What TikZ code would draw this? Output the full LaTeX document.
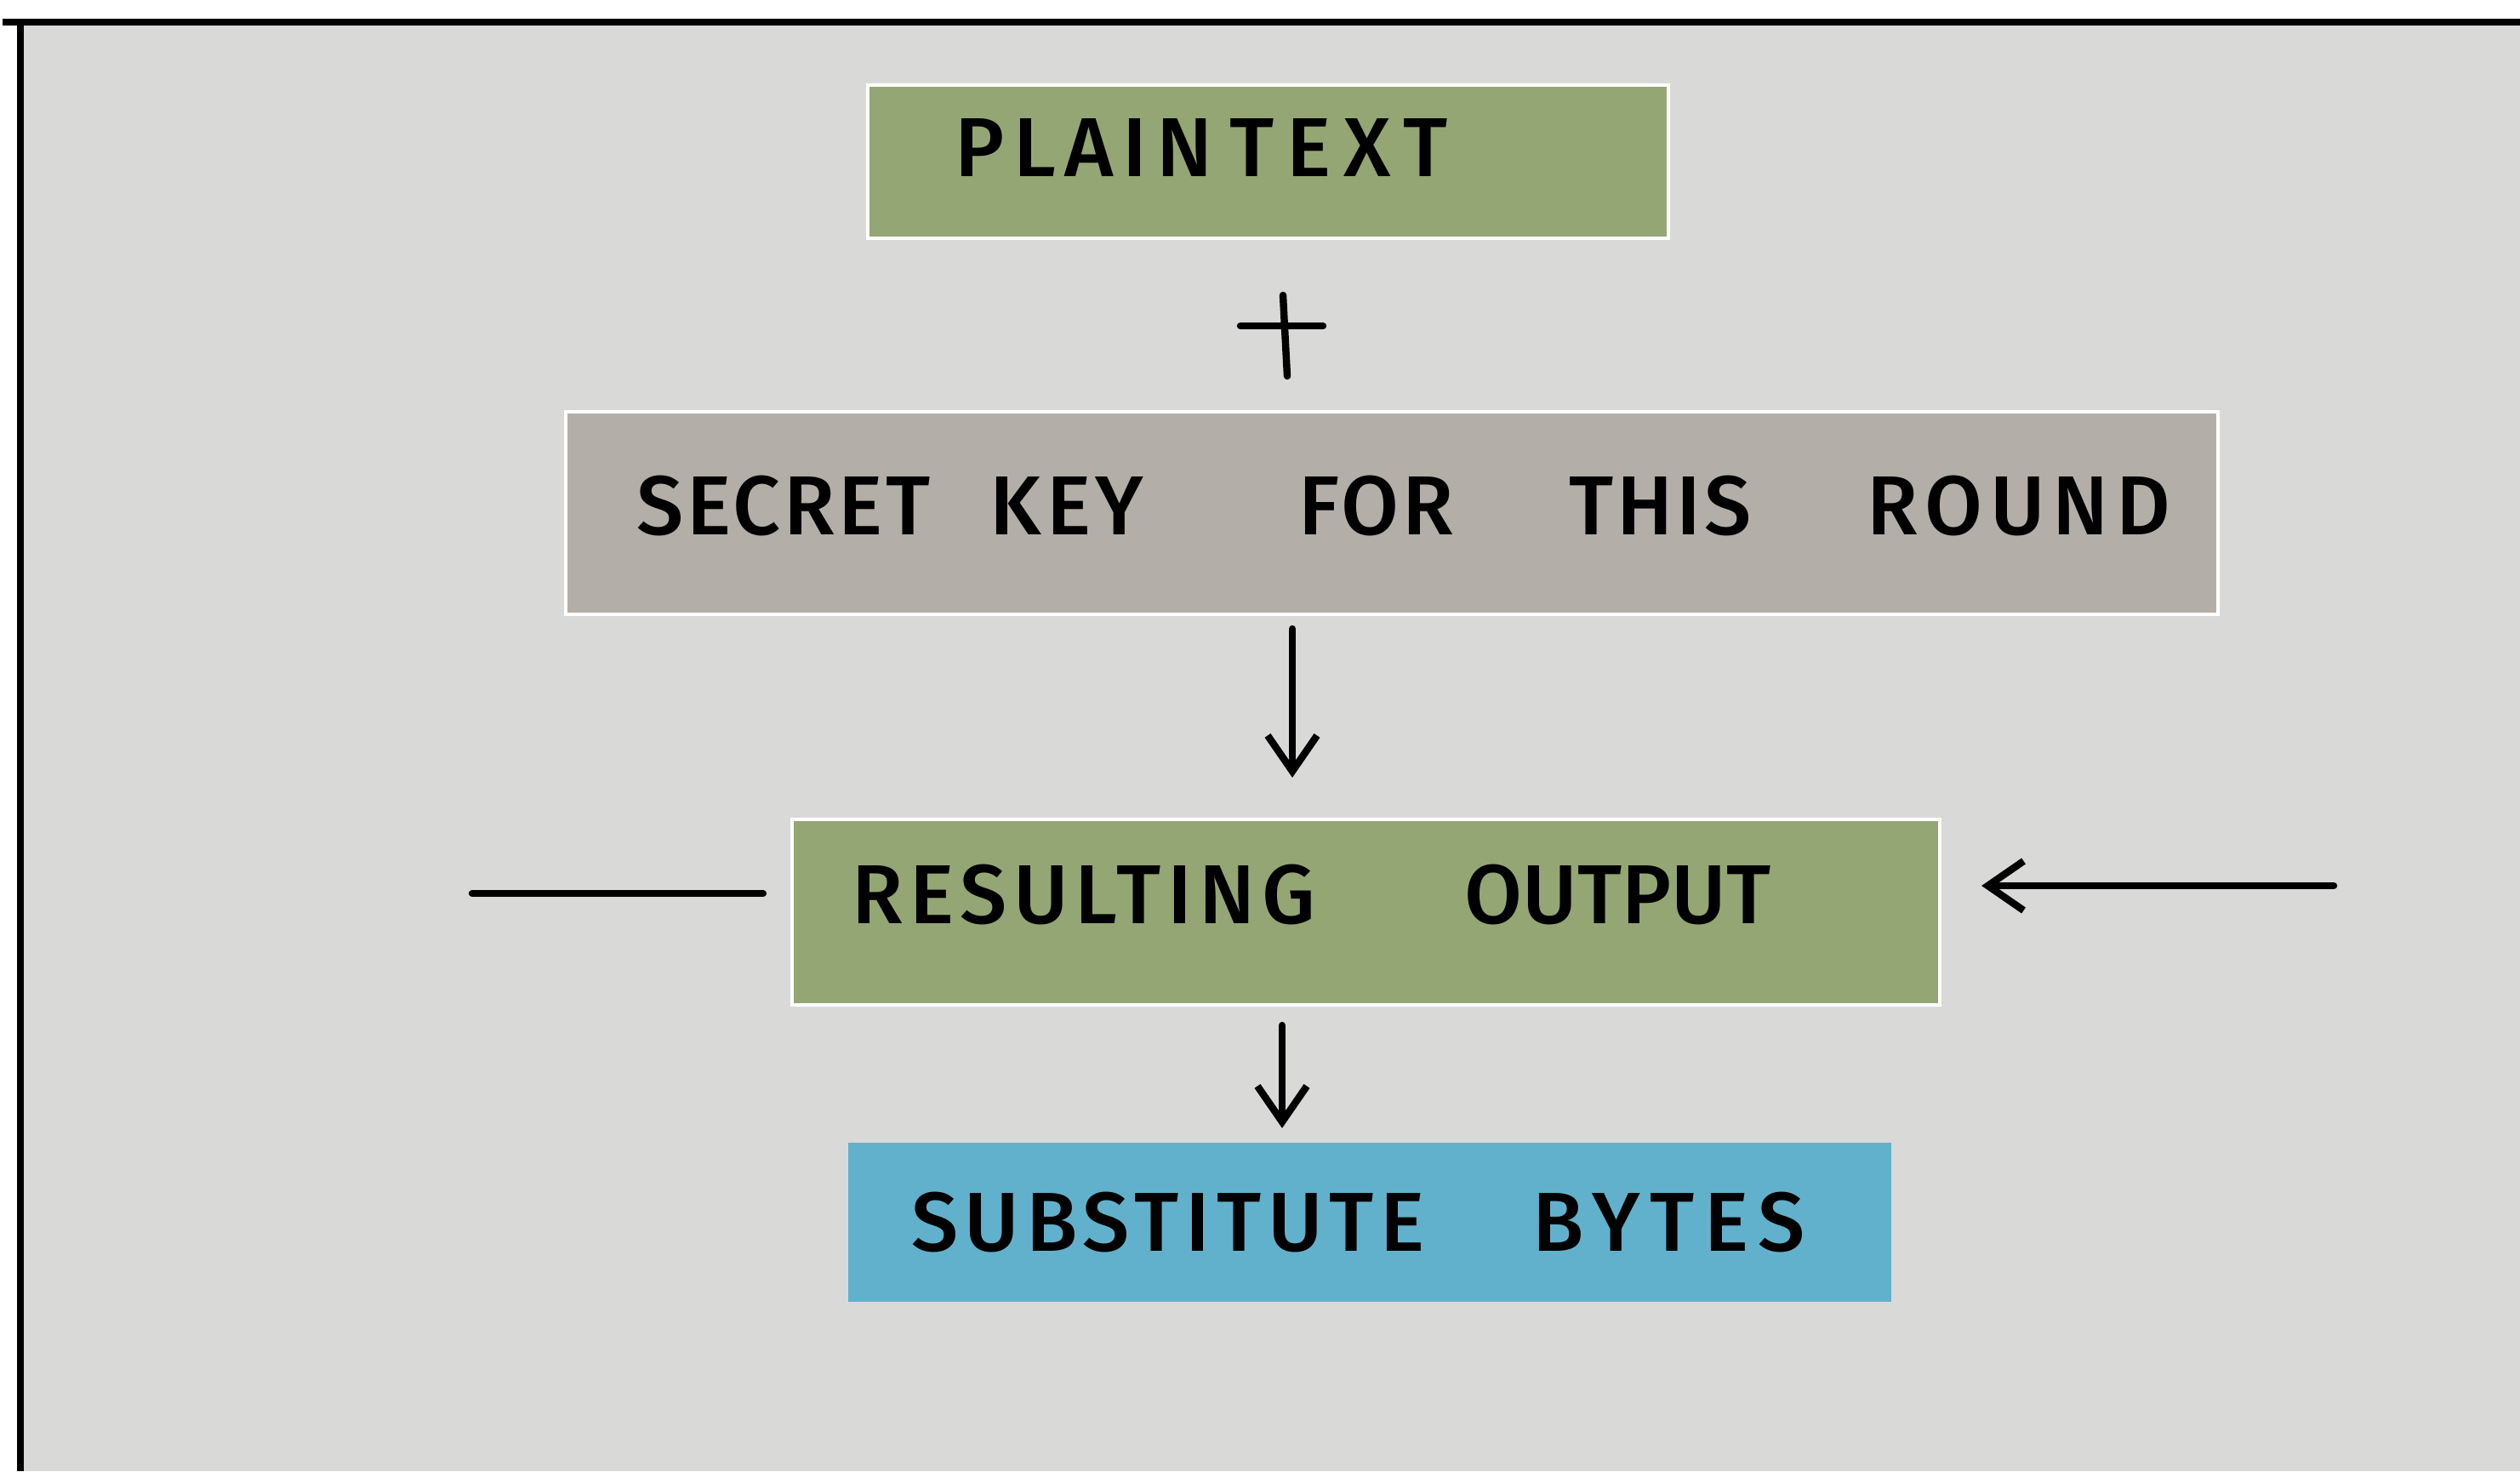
\documentclass[tikz,border=0pt]{standalone}
\usepackage{fontspec}
\setmainfont{Fira Sans}[BoldFont={Fira Sans Medium}]
\usetikzlibrary{arrows.meta}

\definecolor{paper}{HTML}{D9D9D7}
\definecolor{leaf}{HTML}{94A674}
\definecolor{stone}{HTML}{B3AEA7}
\definecolor{sky}{HTML}{62B1CC}

\newcommand{\gap}[1]{\hspace*{#1}}
\newcommand{\spread}[2]{{\addfontfeatures{LetterSpace=#1}#2}}

\begin{document}
\begin{tikzpicture}[>={Straight Barb[length=0.42cm,width=0.58cm]},
    line cap=round,
    card/.style={draw=white, line width=1.2pt, inner ysep=0pt, align=left,
      font=\fontsize{28}{30}\selectfont\bfseries, text height=0.68cm},
    pen/.style={line width=2.4pt}]
    % --- 1. 紙と枠 ---
    \useasboundingbox (0,0) rectangle (29.62,17.29);
    \fill[white] (0,0) rectangle (29.62,17.29);
    \fill[paper] (0.24,0) rectangle (29.62,17.03);
    \draw[line width=2.3pt, line cap=butt] (0.03,17.03) -- (29.62,17.03);
    \draw[line width=2.3pt, line cap=butt] (0.24,17.07) -- (0.24,0);

    % --- 2. 箱 ---
    \node[card, fill=leaf, minimum width=9.41cm, minimum height=1.80cm,
      text width=7.37cm, inner xsep=1.02cm, text depth=0.32cm]
      (plain) at (14.905,15.39) {\spread{11}{PLAIN}\gap{0.2cm}\spread{15}{TEXT}};

    \node[card, fill=stone, minimum width=19.42cm, minimum height=2.38cm,
      text width=17.76cm, inner xsep=0.83cm, text depth=0.16cm]
      (secret) at (16.36,11.26)
      {\spread{4}{SECRET}\gap{0.70cm}\spread{6}{KEY}\gap{1.82cm}\spread{4}{FOR}%
       \gap{1.36cm}\spread{4}{THIS}\gap{1.36cm}\spread{9}{ROUND}};

    \node[card, fill=leaf, minimum width=13.49cm, minimum height=2.18cm,
      text width=12.09cm, inner xsep=0.70cm, text depth=0.40cm]
      (result) at (16.055,6.57) {\spread{8}{RESULTING}\gap{1.76cm}OUTPUT};

    \node[card, fill=sky, draw=none, minimum width=12.26cm, minimum height=1.87cm,
      text width=10.78cm, inner xsep=0.74cm, text depth=0cm]
      (subst) at (16.10,2.925) {\spread{8}{SUBSTITUTE}\gap{1.27cm}\spread{12}{BYTES}};

    % 足し算の記号
    \coordinate (plus) at (15.07,13.38);
    \draw[pen] ([shift={(-0.49,0.08)}]plus) -- ([shift={(0.48,0.08)}]plus);
    \draw[pen] ([shift={(0.01,0.44)}]plus) -- ([shift={(0.06,-0.51)}]plus);

    % --- 3. 矢印 ---
    \coordinate (a1) at (15.19,0);
    \coordinate (a2) at (15.07,0);
    \coordinate (lin) at (5.55,6.79);
    \coordinate (rin) at (27.43,6.88);

    \draw[pen, ->, shorten <=0.15cm, shorten >=0.47cm] (secret.south -| a1) -- (result.north -| a1);
    \draw[pen, ->, shorten <=0.22cm, shorten >=0.15cm] (result.south -| a2) -- (subst.north -| a2);
    \draw[pen, shorten >=0.32cm] (lin) -- (lin -| result.west);
    \draw[pen, ->, shorten >=0.47cm] (rin) -- (rin -| result.east);
  \end{tikzpicture}
\end{document}
